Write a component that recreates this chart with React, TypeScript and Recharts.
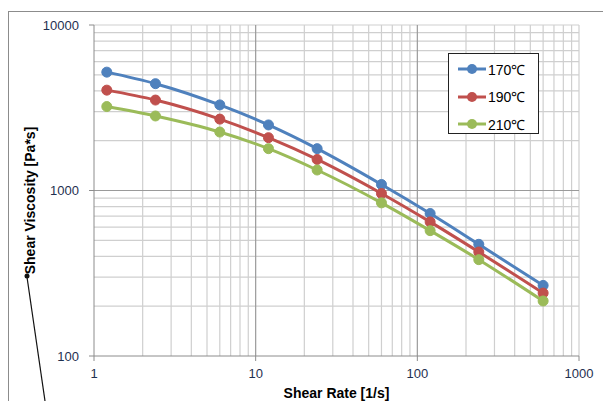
import {
  LineChart,
  Line,
  XAxis,
  YAxis,
  ReferenceLine,
} from "recharts";

const shearRate = [1.2, 2.4, 6, 12, 24, 60, 120, 240, 600];
const visc170 = [5190, 4420, 3290, 2490, 1790, 1087, 726, 473, 267];
const visc190 = [4040, 3520, 2700, 2085, 1540, 959, 646, 425, 240];
const visc210 = [3215, 2820, 2255, 1790, 1330, 842, 572, 382, 215];

const xTicks = [1, 10, 100, 1000];
const yTicks = [100, 1000, 10000];
const xMajorGrid = [10, 100];
const yMajorGrid = [1000];
const xMinorGrid = [1, 10, 100].flatMap((d) => [2, 3, 4, 5, 6, 7, 8, 9].map((m) => m * d)).concat(1000);
const yMinorGrid = [100, 1000].flatMap((d) => [2, 3, 4, 5, 6, 7, 8, 9].map((m) => m * d)).concat(10000);

const series = [
  { key: "t170", name: "170℃", color: "#4F81BD" },
  { key: "t190", name: "190℃", color: "#C0504D" },
  { key: "t210", name: "210℃", color: "#9BBB59" },
];

const data = shearRate.map((x, i) => ({
  x,
  t170: visc170[i],
  t190: visc190[i],
  t210: visc210[i],
}));

const FONT = "'Liberation Sans', Arial, sans-serif";
const TICK_COLOR = "#1f3050";

function LegendBox() {
  return (
    <div
      style={{
        position: "absolute",
        left: 448,
        top: 53,
        width: 89,
        height: 79,
        border: "1px solid #222",
        background: "#fff",
        fontFamily: FONT,
        fontSize: 14,
        color: "#000",
      }}
    >
      {series.map((s, i) => (
        <div
          key={s.key}
          style={{
            position: "absolute",
            left: 9,
            top: 7 + i * 27.5,
            display: "flex",
            alignItems: "center",
            height: 16,
          }}
        >
          <svg width={28} height={12}>
            <line x1={0} y1={6} x2={28} y2={6} stroke={s.color} strokeWidth={3} />
            <circle cx={14} cy={6} r={5} fill={s.color} />
          </svg>
          <span style={{ marginLeft: 2 }}>{s.name}</span>
        </div>
      ))}
    </div>
  );
}

export default function App() {
  return (
    <div
      style={{
        position: "absolute",
        left: 0,
        top: 0,
        width: 603,
        height: 401,
        overflow: "hidden",
        background: "#fff",
      }}
    >
      <div
        style={{
          position: "absolute",
          left: 8,
          top: 11,
          width: 700,
          height: 500,
          borderLeft: "1px solid #8c8c8c",
          borderTop: "1px solid #8c8c8c",
        }}
      />
      <LineChart
        width={603}
        height={401}
        data={data}
        margin={{ top: 25, right: 24, bottom: 0, left: 0 }}
        style={{ fontFamily: FONT }}
      >
        <XAxis
          dataKey="x"
          type="number"
          scale="log"
          domain={[1, 1000]}
          ticks={xTicks}
          allowDataOverflow
          height={45}
          axisLine={{ stroke: "#8c8c8c" }}
          tickLine={{ stroke: "#8c8c8c" }}
          tickSize={5}
          tickMargin={8}
          tick={{ fill: TICK_COLOR, fontSize: 13 }}
          label={{
            value: "Shear Rate [1/s]",
            position: "insideBottom",
            offset: 3,
            style: { fontWeight: "bold", fontSize: 14, fill: "#000" },
          }}
        />
        <YAxis
          type="number"
          scale="log"
          domain={[100, 10000]}
          ticks={yTicks}
          allowDataOverflow
          width={94}
          axisLine={{ stroke: "#8c8c8c" }}
          tickLine={{ stroke: "#8c8c8c" }}
          tickSize={5}
          tickMargin={10}
          tick={{ fill: TICK_COLOR, fontSize: 13 }}
          label={{
            content: ({ viewBox }: any) => (
              <text
                x={0}
                y={0}
                transform={`translate(${viewBox.x + 35}, ${viewBox.y + viewBox.height / 2 + 10}) rotate(-90)`}
                textAnchor="middle"
                fontWeight="bold"
                fontSize={14}
                fill="#000"
              >
                Shear Viscosity [Pa*s]
              </text>
            ),
          }}
        />
        {xMinorGrid.map((v) => (
          <ReferenceLine key={"xm" + v} x={v} stroke="#cfcfcf" strokeWidth={1.2} />
        ))}
        {yMinorGrid.map((v) => (
          <ReferenceLine key={"ym" + v} y={v} stroke="#cfcfcf" strokeWidth={1.2} />
        ))}
        {xMajorGrid.map((v) => (
          <ReferenceLine key={"xM" + v} x={v} stroke="#9a9a9a" strokeWidth={1.2} />
        ))}
        {yMajorGrid.map((v) => (
          <ReferenceLine key={"yM" + v} y={v} stroke="#9a9a9a" strokeWidth={1.2} />
        ))}
        {series.map((s) => (
          <Line
            key={s.key}
            type="monotone"
            dataKey={s.key}
            name={s.name}
            stroke={s.color}
            strokeWidth={3}
            dot={{ r: 5, fill: s.color, stroke: s.color, strokeWidth: 1 }}
            isAnimationActive={false}
          />
        ))}
      </LineChart>
      <LegendBox />
      <svg
        width={603}
        height={401}
        style={{ position: "absolute", left: 0, top: 0, pointerEvents: "none" }}
      >
        <line x1={27} y1={277} x2={45} y2={401} stroke="#111" strokeWidth={1.2} />
        <circle cx={27} cy={276} r={2.5} fill="#111" />
      </svg>
    </div>
  );
}
